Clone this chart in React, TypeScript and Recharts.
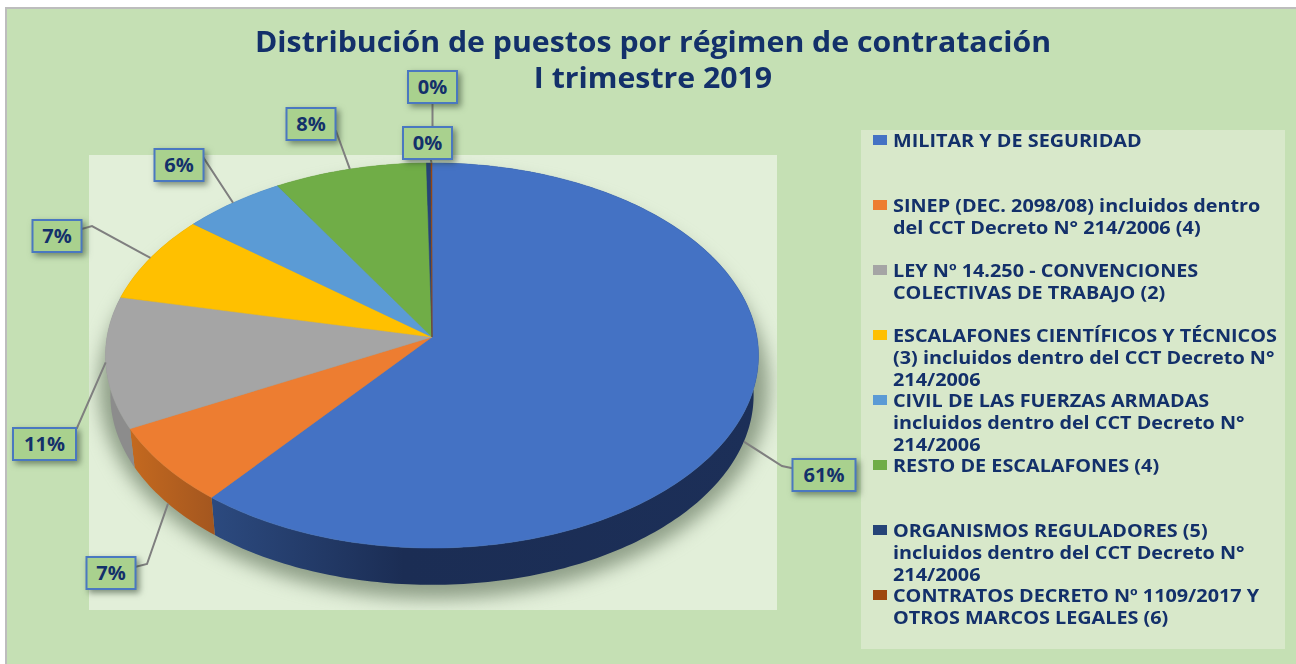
import { Legend, Pie, PieChart } from "recharts";

const categories = [
  "MILITAR Y DE SEGURIDAD",
  "SINEP (DEC. 2098/08) incluidos dentro\ndel CCT Decreto N° 214/2006 (4)",
  "LEY Nº 14.250 - CONVENCIONES\nCOLECTIVAS DE TRABAJO (2)",
  "ESCALAFONES CIENTÍFICOS Y TÉCNICOS\n(3) incluidos dentro del CCT Decreto N°\n214/2006",
  "CIVIL DE LAS FUERZAS ARMADAS\nincluidos dentro del CCT Decreto N°\n214/2006",
  "RESTO DE ESCALAFONES (4)",
  "ORGANISMOS REGULADORES (5)\nincluidos dentro del CCT Decreto N°\n214/2006",
  "CONTRATOS DECRETO Nº 1109/2017 Y\nOTROS MARCOS LEGALES (6)",
];
const shares = [60.8, 6.6, 11.0, 7.4, 5.6, 8.3, 0.25, 0.05];
const topColors = ["#4472c4", "#ed7d31", "#a5a5a5", "#ffc000", "#5b9bd5", "#70ad47", "#264478", "#9e480e"];
const wallColors = ["url(#wallBlue)", "url(#wallOrange)", "#8c8c8c", "#b58900", "#41709a", "#4f7a32", "#1b3056", "#70330a"];

// label boxes: centre x, centre y, width, optional elbow
const labelBoxes = [
  { x: 824, y: 475, w: 63, elbow: [782, 466] },
  { x: 111, y: 573, w: 49, elbow: [147, 564] },
  { x: 44.5, y: 444, w: 63, elbow: [77, 428] },
  { x: 57, y: 236, w: 49, elbow: [92, 226] },
  { x: 179, y: 165, w: 49, elbow: [203, 157] },
  { x: 311, y: 124, w: 49, elbow: [336, 131] },
  { x: 432.5, y: 87, w: 49, tail: true },
  { x: 427.5, y: 143, w: 49 },
];

const topData = categories.map((name, i) => ({ name, value: shares[i], fill: topColors[i] }));
const wallData = categories.map((name, i) => ({ name, value: shares[i], fill: wallColors[i] }));

const INK = "#13306a";
const TILT = 0.587;
const PERSPECTIVE = 0.096;
const DEPTH = 40;
const BOTTOM_SCALE = 0.985;
const FONT = '"Open Sans", sans-serif';

// recharts hands angles in degrees, counter clockwise from 3 o'clock
const project = (cx: number, cy: number, r: number, angle: number) => {
  const t = ((90 - angle) * Math.PI) / 180;
  const d = 1 + PERSPECTIVE * Math.cos(t);
  return { x: cx + (r * Math.sin(t)) / d, y: cy - (r * TILT * Math.cos(t)) / d };
};

const arc = (cx: number, cy: number, r: number, from: number, to: number) => {
  const n = Math.max(2, Math.ceil(Math.abs(to - from)));
  const pts = [];
  for (let i = 0; i <= n; i++) pts.push(project(cx, cy, r, from + ((to - from) * i) / n));
  return pts;
};

const toPath = (pts: { x: number; y: number }[]) =>
  pts.map((p, i) => `${i ? "L" : "M"}${p.x.toFixed(2)} ${p.y.toFixed(2)}`).join(" ") + " Z";

const TopSlice = (p: any) => {
  const d = toPath([{ x: p.cx, y: p.cy }, ...arc(p.cx, p.cy, p.outerRadius, p.startAngle, p.endAngle)]);
  return <path d={d} fill={p.fill} stroke={p.fill} strokeWidth={0.5} />;
};

const WallSlice = (p: any) => {
  const top = arc(p.cx, p.cy, p.outerRadius, p.startAngle, p.endAngle);
  const bottom = arc(p.cx, p.cy + DEPTH, p.outerRadius * BOTTOM_SCALE, p.endAngle, p.startAngle);
  return <path d={toPath([...top, ...bottom])} fill={p.fill} stroke="none" />;
};

const SliceLabel = (p: any) => {
  const box = labelBoxes[p.index];
  const h = 32;
  const t = ((90 - p.midAngle) * Math.PI) / 180;
  const front = Math.cos(t) < -0.2;
  const a = front
    ? project(p.cx, p.cy + DEPTH, p.outerRadius * BOTTOM_SCALE, p.midAngle)
    : project(p.cx, p.cy, p.outerRadius, p.midAngle);
  const end = box.tail
    ? `${box.x},${box.y + h / 2} ${box.x},${box.y + 41}`
    : `${box.elbow ? box.elbow.join(",") + " " : ""}${box.x},${box.y}`;
  const points = box.tail ? end : `${a.x},${a.y} ${end}`;
  return (
    <g>
      <polyline points={points} fill="none" stroke="#7f7f7f" strokeWidth={2} />
      <rect
        x={box.x - box.w / 2}
        y={box.y - h / 2}
        width={box.w}
        height={h}
        fill="#a9d18e"
        stroke="#4a78c0"
        strokeWidth={2}
        style={{ filter: "drop-shadow(3px 3px 3px rgba(40,60,40,0.55))" }}
      />
      <text
        x={box.x}
        y={box.y + 7}
        textAnchor="middle"
        fontFamily={FONT}
        fontWeight={700}
        fontSize={20}
        fill={INK}
      >
        {Math.round(p.percent * 100)}%
      </text>
    </g>
  );
};

const LegendList = ({ payload }: any) => (
  <div style={{ fontFamily: FONT, fontWeight: 700, fontSize: 17, lineHeight: "22px", color: INK }}>
    {(payload || [])
      .filter((e: any) => e.type !== "none")
      .map((e: any) => (
        <div key={e.value} style={{ display: "flex", height: 65 }}>
          <span
            style={{ width: 14, height: 10, marginTop: 6, marginRight: 6, background: e.color, flex: "none" }}
          />
          <span style={{ whiteSpace: "pre", marginTop: 1, transform: "scaleX(1.165)", transformOrigin: "left" }}>
            {e.value}
          </span>
        </div>
      ))}
  </div>
);

export default function App() {
  return (
    <div style={{ position: "absolute", left: 0, top: 0, width: 1296, height: 664, background: "#fff", overflow: "hidden" }}>
      <div
        style={{
          position: "absolute",
          left: 5,
          top: 7,
          right: 0,
          bottom: 0,
          background: "#c5e0b4",
          borderLeft: "2px solid #bdbdbd",
          borderTop: "2px solid #bdbdbd",
        }}
      />
      <div style={{ position: "absolute", left: 89, top: 155, width: 688, height: 455, background: "#e2efd9", overflow: "hidden" }}>
        <div
          style={{
            position: "absolute",
            left: 10,
            top: 20,
            width: 670,
            height: 424,
            borderRadius: "50%",
            background: "#8f9f88",
            filter: "blur(9px)",
          }}
        />
      </div>
      <div style={{ position: "absolute", left: 861, top: 130, width: 424, height: 519, background: "#d8e8ca" }} />
      <div
        style={{
          position: "absolute",
          left: 0,
          top: 23,
          width: 1306,
          textAlign: "center",
          fontFamily: FONT,
          fontWeight: 700,
          fontSize: 28,
          lineHeight: "36px",
          color: INK,
          transform: "scaleX(1.08)",
          transformOrigin: "653px 0",
        }}
      >
        Distribución de puestos por régimen de contratación
        <br />
        I trimestre 2019
      </div>
      <div style={{ position: "absolute", left: 0, top: 0 }}>
        <PieChart width={1296} height={664} margin={{ top: 0, right: 0, bottom: 0, left: 0 }}>
          <defs>
            <linearGradient id="wallBlue" gradientUnits="userSpaceOnUse" x1="212" y1="0" x2="760" y2="0">
              <stop offset="0" stopColor="#2c4a7f" />
              <stop offset="0.35" stopColor="#1b2d54" />
              <stop offset="1" stopColor="#1c2f58" />
            </linearGradient>
            <linearGradient id="wallOrange" gradientUnits="userSpaceOnUse" x1="130" y1="0" x2="216" y2="0">
              <stop offset="0" stopColor="#c4691f" />
              <stop offset="1" stopColor="#a3561f" />
            </linearGradient>
          </defs>
          <Pie
            data={wallData}
            dataKey="value"
            nameKey="name"
            cx={432}
            cy={337}
            outerRadius={325}
            startAngle={90}
            endAngle={-270}
            legendType="none"
            shape={WallSlice}
            isAnimationActive={false}
          />
          <Pie
            data={topData}
            dataKey="value"
            nameKey="name"
            cx={432}
            cy={337}
            outerRadius={325}
            startAngle={90}
            endAngle={-270}
            shape={TopSlice}
            label={SliceLabel}
            labelLine={false}
            isAnimationActive={false}
          />
          <Legend
            content={LegendList}
            itemSorter={null}
            wrapperStyle={{ position: "absolute", left: 873, top: 129, width: 420, bottom: "auto", right: "auto" }}
          />
        </PieChart>
      </div>
    </div>
  );
}
